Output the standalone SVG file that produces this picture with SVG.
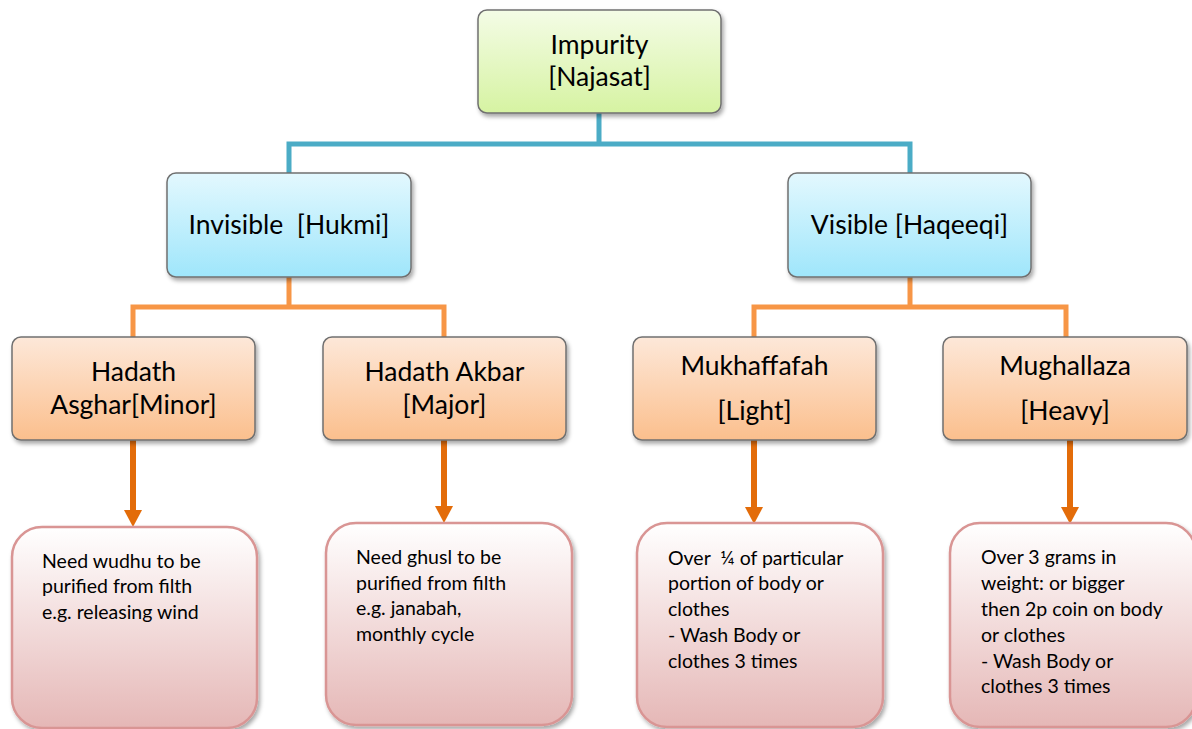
<svg xmlns="http://www.w3.org/2000/svg" width="1192" height="729" viewBox="0 0 1192 729">
<style>
.h{font-family:Lato,"Liberation Sans",sans-serif;font-size:26.5px;fill:#000;text-anchor:middle}
.b{font-family:Lato,"Liberation Sans",sans-serif;font-size:19.5px;fill:#000}
.top{fill:url(#gGreen);stroke:#707070;stroke-width:1.5;filter:url(#sh)}
.mid{fill:url(#gBlue);stroke:#707070;stroke-width:1.5;filter:url(#sh)}
.lvl{fill:url(#gOrange);stroke:#707070;stroke-width:1.5;filter:url(#sh)}
.leaf{fill:url(#gPink);stroke:#d99594;stroke-width:2.5;filter:url(#sh)}
.cb{fill:none;stroke:#4bacc6;stroke-width:5}
.co{fill:none;stroke:#f79646;stroke-width:5}
.ca{fill:none;stroke:#e36c09;stroke-width:6}
</style>
<defs>
<linearGradient id="gGreen" x1="0" y1="0" x2="0" y2="1"><stop offset="0" stop-color="#f4fce6"/><stop offset="1" stop-color="#d6f3a2"/></linearGradient>
<linearGradient id="gBlue" x1="0" y1="0" x2="0" y2="1"><stop offset="0" stop-color="#e3f8fe"/><stop offset="1" stop-color="#9fe6fb"/></linearGradient>
<linearGradient id="gOrange" x1="0" y1="0" x2="0" y2="1"><stop offset="0" stop-color="#fde8d9"/><stop offset="1" stop-color="#fbbf8d"/></linearGradient>
<linearGradient id="gPink" x1="0" y1="0" x2="0" y2="1"><stop offset="0" stop-color="#ffffff"/><stop offset="1" stop-color="#e5b7b6"/></linearGradient>
<filter id="sh" x="-10%" y="-10%" width="130%" height="130%"><feDropShadow dx="2" dy="3" stdDeviation="2" flood-color="#000" flood-opacity="0.35"/></filter>
<marker id="arr" markerWidth="17" markerHeight="18" refX="0" refY="9" orient="auto" markerUnits="userSpaceOnUse" viewBox="0 0 17 18"><path d="M0,0 L17,9 L0,18 Z" fill="#e36c09"/></marker>
</defs>

<g id="connectors">
<path class="cb" d="M599,113 V144 M289,173 V144 H910 V173"/>
<path class="co" d="M289,277 V307 M133,337 V307 H444 V337"/>
<path class="co" d="M910,277 V307 M754,337 V307 H1066 V337"/>
<path class="ca" d="M133,440 V510" marker-end="url(#arr)"/>
<path class="ca" d="M444,440 V506" marker-end="url(#arr)"/>
<path class="ca" d="M754,440 V507" marker-end="url(#arr)"/>
<path class="ca" d="M1070,440 V507" marker-end="url(#arr)"/>
</g>

<g id="impurity">
<rect class="top" x="478" y="10" width="243" height="103" rx="9"/>
<text class="h" x="599.5" y="54">Impurity</text>
<text class="h" x="599.5" y="86">[Najasat]</text>
</g>

<g id="invisible">
<rect class="mid" x="167" y="173" width="244" height="104" rx="9"/>
<text class="h" x="289" y="234" xml:space="preserve">Invisible  [Hukmi]</text>
</g>

<g id="visible">
<rect class="mid" x="788" y="173" width="243" height="104" rx="9"/>
<text class="h" x="909.5" y="234">Visible [Haqeeqi]</text>
</g>

<g id="asghar">
<rect class="lvl" x="12" y="337" width="243" height="103" rx="9"/>
<text class="h" x="133.5" y="381">Hadath</text>
<text class="h" x="133.5" y="414">Asghar[Minor]</text>
</g>

<g id="akbar">
<rect class="lvl" x="323" y="337" width="243" height="103" rx="9"/>
<text class="h" x="444.5" y="381">Hadath Akbar</text>
<text class="h" x="444.5" y="414">[Major]</text>
</g>

<g id="mukhaffafah">
<rect class="lvl" x="633" y="337" width="243" height="103" rx="9"/>
<text class="h" x="754.5" y="375">Mukhaffafah</text>
<text class="h" x="754.5" y="420">[Light]</text>
</g>

<g id="mughallaza">
<rect class="lvl" x="943" y="337" width="244" height="103" rx="9"/>
<text class="h" x="1065" y="375">Mughallaza</text>
<text class="h" x="1065" y="420">[Heavy]</text>
</g>

<g id="wudhu">
<rect class="leaf" x="12" y="527" width="245" height="201" rx="30"/>
<text class="b" x="42" y="568">Need wudhu to be</text>
<text class="b" x="42" y="593">purified from filth</text>
<text class="b" x="42" y="619">e.g. releasing wind</text>
</g>

<g id="ghusl">
<rect class="leaf" x="326" y="523" width="246" height="202" rx="30"/>
<text class="b" x="356" y="564">Need ghusl to be</text>
<text class="b" x="356" y="590">purified from filth</text>
<text class="b" x="356" y="615">e.g. janabah,</text>
<text class="b" x="356" y="641">monthly cycle</text>
</g>

<g id="light-detail">
<rect class="leaf" x="637" y="523" width="246" height="204" rx="30"/>
<text class="b" x="668" y="565" xml:space="preserve">Over  ¼ of particular</text>
<text class="b" x="668" y="590">portion of body or</text>
<text class="b" x="668" y="616">clothes</text>
<text class="b" x="668" y="642">- Wash Body or</text>
<text class="b" x="668" y="668">clothes 3 times</text>
</g>

<g id="heavy-detail">
<rect class="leaf" x="950" y="523" width="246" height="204" rx="30"/>
<text class="b" x="981" y="564">Over 3 grams in</text>
<text class="b" x="981" y="590">weight: or bigger</text>
<text class="b" x="981" y="616">then 2p coin on body</text>
<text class="b" x="981" y="642">or clothes</text>
<text class="b" x="981" y="668">- Wash Body or</text>
<text class="b" x="981" y="693">clothes 3 times</text>
</g>
</svg>
